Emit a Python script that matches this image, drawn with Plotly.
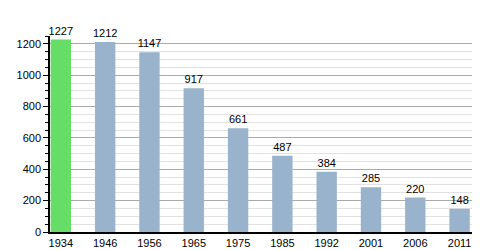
import plotly.graph_objects as go

years = ["1934", "1946", "1956", "1965", "1975", "1985", "1992", "2001", "2006", "2011"]
population = [1227, 1212, 1147, 917, 661, 487, 384, 285, 220, 148]
bar_colors = ["#66dd66"] + ["#99b3cd"] * 9

fig = go.Figure(go.Bar(
    x=years, y=population,
    marker=dict(color=bar_colors, line=dict(width=0)),
    width=0.46,
    text=[str(v) for v in population],
    textposition="outside",
    constraintext="none",
    textfont=dict(family="Liberation Sans, Arial", size=11, color="#000"),
    cliponaxis=False,
))

fig.update_layout(
    width=500, height=250,
    margin=dict(l=50, r=28, t=36, b=18, autoexpand=False),
    paper_bgcolor="white", plot_bgcolor="white",
    font=dict(family="Liberation Sans, Arial", size=11, color="#000"),
    showlegend=False,
    bargap=0.5,
)
fig.update_xaxes(
    type="category", range=[-0.245, 9.28], automargin=False,
    showline=True, linecolor="#000", linewidth=1.5,
    ticks="", showgrid=False, tickfont=dict(size=11), ticklabelstandoff=0,
)
fig.update_yaxes(
    range=[0, 1250], dtick=200, tick0=0, automargin=False,
    showline=True, linecolor="#000", linewidth=1.5,
    ticks="outside", ticklen=5, tickcolor="#000",
    showgrid=True, gridcolor="#aaaaaa", gridwidth=1,
    zeroline=False,
    minor=dict(dtick=50, showgrid=True, gridcolor="#e2e2e2", ticks="outside", ticklen=3, tickcolor="#000"),
    tickfont=dict(size=11),
)

fig.write_html("out.html")
